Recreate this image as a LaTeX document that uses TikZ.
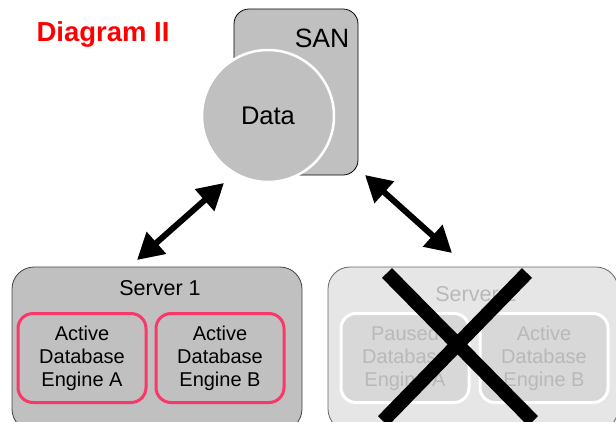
\documentclass[tikz,border=0pt]{standalone}
\usepackage{fontspec}
\setmainfont{Liberation Sans}
\usetikzlibrary{arrows.meta}
\definecolor{boxgray}{RGB}{192,192,192}
\definecolor{offgray}{RGB}{230,230,230}
\definecolor{offinner}{RGB}{216,216,216}
\definecolor{offtext}{RGB}{185,185,185}
\definecolor{enginered}{RGB}{250,55,105}
\begin{document}
\begin{tikzpicture}[x=1pt,y=-1pt,
		server/.style={draw=black!75,fill=boxgray,rounded corners=22pt,minimum width=290pt,minimum height=164pt,line width=0.8pt},
		engine/.style={draw=enginered,fill=boxgray,line width=3pt,rounded corners=15pt,minimum width=128pt,minimum height=89pt,align=center,font=\fontsize{20}{23}\selectfont},
		offengine/.style={engine,draw=white,fill=offinner,text=offtext},
		link/.style={line width=6pt,{Triangle[length=26pt,width=28pt]}-{Triangle[length=26pt,width=28pt]}}]
			\useasboundingbox (0,0) rectangle (616,421);
			%Title
			\node (title) at (103,34) [text=red,font=\fontsize{27.5}{27.5}\selectfont\bfseries] {Diagram II};
			%SAN with data
			\node (san) at (296,92) [draw,fill=boxgray,rounded corners=15pt,minimum width=124pt,minimum height=166pt,line width=0.8pt] {};
			\node (santxt) at (322,38) [font=\fontsize{26.5}{26.5}\selectfont] {SAN};
			\node (data) at (268,116) [circle,draw=white,fill=boxgray,line width=2.5pt,minimum size=132pt,font=\fontsize{25.5}{25.5}\selectfont] {Data};
			%Server 1
			\node (srv1) at (157,349) [server] {};
			\node (srv1txt) at (160,288) [font=\fontsize{21.5}{21.5}\selectfont] {Server 1};
			\node (engA) at (82,358) [engine] {Active\\Database\\Engine A};
			\node (engB) at (220,358) [engine] {Active\\Database\\Engine B};
			%Server 2 (down)
			\node (srv2) at (473,349) [server,draw=black!60,fill=offgray] {};
			\node (srv2txt) at (476,294) [text=offtext,font=\fontsize{21.5}{21.5}\selectfont] {Server 2};
			\node (engC) at (405,358) [offengine] {Paused\\Database\\Engine A};
			\node (engD) at (544,358) [offengine] {Active\\Database\\Engine B};
			%Cross
			\coordinate (xa) at (387,273);
			\coordinate (xb) at (533,421);
			\coordinate (xc) at (527,273);
			\coordinate (xd) at (383,421);
			\draw[line width=14pt] (xa) -- (xb) (xc) -- (xd);
			%Links
			\coordinate (l1) at (137,260);
			\coordinate (l2) at (224,183);
			\coordinate (r1) at (365,175);
			\coordinate (r2) at (452,253);
			\draw[link] (l1) -- (l2);
			\draw[link] (r1) -- (r2);
		\end{tikzpicture}
\end{document}
